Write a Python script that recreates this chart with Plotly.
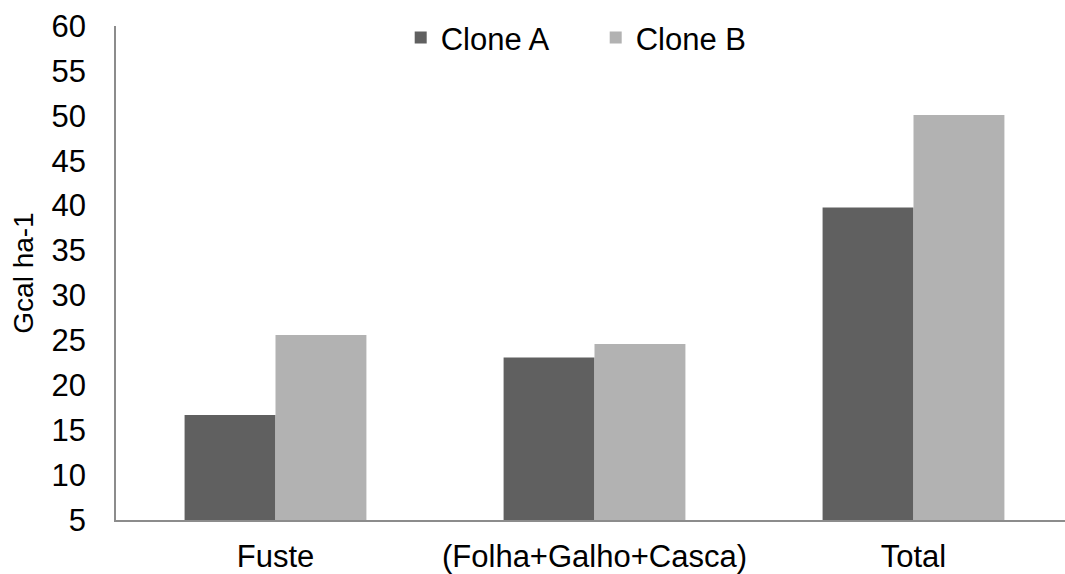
import plotly.graph_objects as go

categories = ["Fuste", "(Folha+Galho+Casca)", "Total"]
clone_a = [16.7, 23.1, 39.8]
clone_b = [25.6, 24.6, 50.1]
y_ticks = [5, 10, 15, 20, 25, 30, 35, 40, 45, 50, 55, 60]

FONT = "Liberation Sans, Arial, sans-serif"
FS = 31

fig = go.Figure()
fig.add_trace(go.Bar(name="Clone A", x=categories, y=clone_a,
                     marker=dict(color="#606060", line=dict(width=0))))
fig.add_trace(go.Bar(name="Clone B", x=categories, y=clone_b,
                     marker=dict(color="#b2b2b2", line=dict(width=0))))

fig.update_layout(
    width=1065, height=574,
    margin=dict(l=116, r=0, t=26, b=54),
    paper_bgcolor="white", plot_bgcolor="white",
    barmode="group", bargap=0.43, bargroupgap=0,
    font=dict(family=FONT, size=FS, color="black"),
    showlegend=True,
    legend=dict(orientation="h", x=0.3, xanchor="left", y=0.976, yanchor="middle",
                bgcolor="rgba(0,0,0,0)", font=dict(size=FS), itemwidth=30,
                entrywidth=150, entrywidthmode="pixels",
                traceorder="normal"),
)
fig.update_xaxes(
    range=[-0.5, -0.5 + 949 / 319],
    showline=True, linecolor="#8c8c8c", linewidth=2,
    showgrid=False, ticks="", tickfont=dict(size=FS), ticklabelstandoff=8,
)
fig.update_yaxes(
    range=[5, 60], tickvals=y_ticks,
    showline=True, linecolor="#8c8c8c", linewidth=1.5,
    showgrid=False, zeroline=False, ticks="", tickfont=dict(size=FS),
    ticklabelstandoff=22,
    title=dict(text="Gcal ha-1", font=dict(size=28), standoff=10),
)

fig.write_html("out.html")
